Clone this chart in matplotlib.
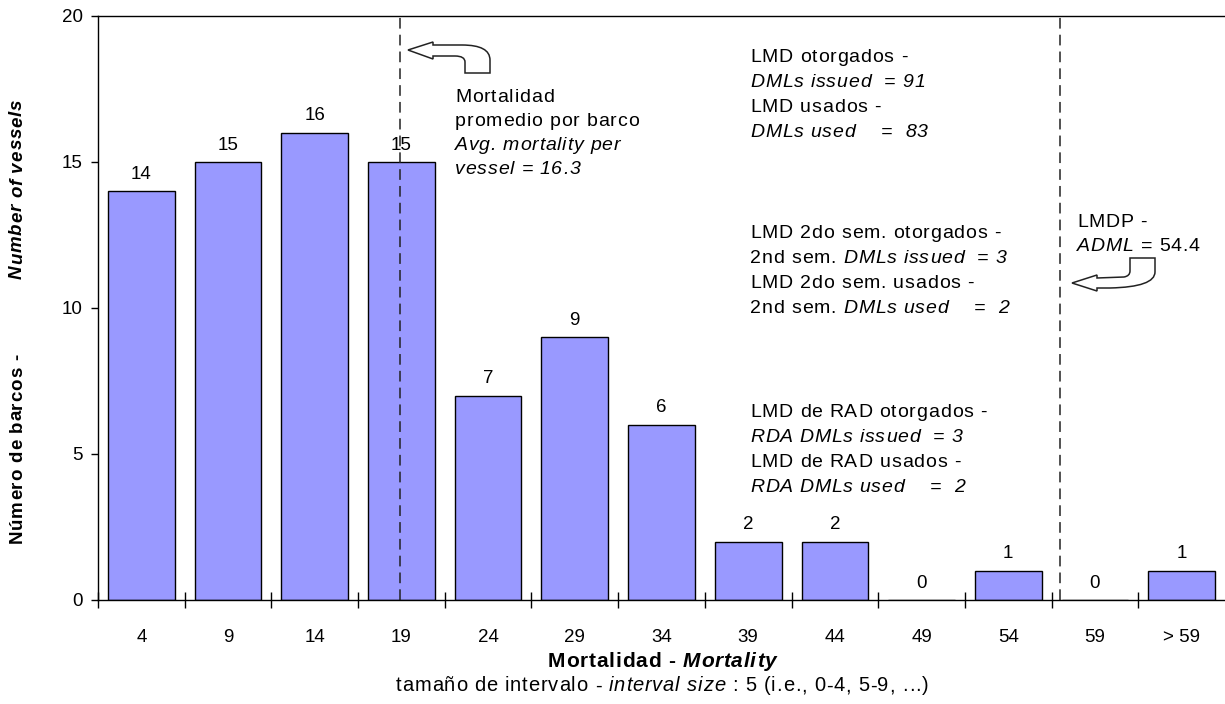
import matplotlib
matplotlib.use("Agg")
import matplotlib.pyplot as plt
from matplotlib.path import Path
from matplotlib.patches import PathPatch
from matplotlib.font_manager import FontProperties
import numpy as np

plt.rcParams['font.family'] = ['Liberation Sans', 'DejaVu Sans']

# data
categories = ['4', '9', '14', '19', '24', '29', '34', '39', '44', '49', '54', '59', '> 59']
counts = [14, 15, 16, 15, 7, 9, 6, 2, 2, 0, 1, 0, 1]
avg_mortality = 16.3
adml = 54.4
interval = 5

W, H = 1225, 704
FS = 13.5      # ticks and bar labels
TS = 14        # annotation text
TRACK = 0.8    # extra letter spacing (px) of the original renderer
fig = plt.figure(figsize=(W / 100, H / 100), dpi=100)
ax = fig.add_axes([98 / W, 1 - 600 / H, 1127 / W, 584 / H])

x = np.arange(len(categories))
bars = ax.bar(x, counts, width=0.77, color='#9999FF', edgecolor='black', linewidth=1.0)
for xi, c in zip(x, counts):
    ax.annotate(str(c), (xi, c), xytext=(0, 6), textcoords='offset points',
                ha='center', va='bottom', fontsize=FS)

ax.set_xlim(-0.5, len(categories) - 0.5)
ax.set_ylim(0, 20)
ax.set_yticks([0, 5, 10, 15, 20])
ax.tick_params(axis='y', labelsize=FS, direction='out', length=5, width=1, pad=6)
ax.set_xticks(x)
ax.set_xticklabels(categories, fontsize=FS)
ax.tick_params(axis='x', which='major', length=0, pad=21)
ax.set_xticks(np.arange(len(categories)) - 0.5, minor=True)
ax.tick_params(axis='x', which='minor', direction='inout', length=12, width=1)
ax.spines['right'].set_visible(False)
for s in ['left', 'bottom', 'top']:
    ax.spines[s].set_linewidth(1.0)


# category axis position of a mortality value (bars labelled by interval upper bound)
def cat_pos(v):
    return v / interval - 0.28


for v in [avg_mortality, adml]:
    ax.axvline(cat_pos(v), color='#222222', lw=1.1, ls=(0, (7, 4)))

renderer = fig.canvas.get_renderer()


def fx(px):
    return px / W


def fy(py):
    return 1 - py / H


def text_w(s, prop):
    w, _, _ = renderer.get_text_width_height_descent(s + '|', prop, ismath=False)
    w0, _, _ = renderer.get_text_width_height_descent('|', prop, ismath=False)
    return w - w0


def layout(pieces, size, track):
    # returns list of (char, prop, offset) and the total length
    out = []
    pos = 0.0
    for t, st, wt in pieces:
        prop = FontProperties(family=['Liberation Sans', 'DejaVu Sans'], size=size,
                              style=st, weight=wt)
        for k, ch in enumerate(t):
            off = text_w(t[:k], prop) + k * track
            out.append((ch, prop, pos + off))
        pos += text_w(t, prop) + len(t) * track
    return out, pos - track


def rich(px, py, pieces, ha='left', size=TS, track=TRACK):
    # py is the centre line of the text, pixels from the top
    chars, total = layout(pieces, size, track)
    x0 = px - total / 2 if ha == 'center' else px
    base = py + size * 0.37
    for ch, prop, off in chars:
        if ch != ' ':
            fig.text(fx(x0 + off), fy(base), ch, fontproperties=prop,
                     ha='left', va='baseline')


def rich_vertical(px, py_bottom, pieces, gap, size=TS, track=TRACK):
    pos = py_bottom
    for piece in pieces:
        chars, total = layout([piece], size, track)
        for ch, prop, off in chars:
            if ch != ' ':
                fig.text(fx(px + size * 0.37), fy(pos - off), ch, fontproperties=prop,
                         rotation=90, rotation_mode='anchor', ha='left', va='baseline')
        pos -= total + gap


N, I = 'normal', 'italic'

# average mortality note
rich(455, 97, [('Mortalidad', N, 'normal')])
rich(455, 121, [('promedio por barco', N, 'normal')])
rich(455, 145, [('Avg. mortality per', I, 'normal')])
rich(455, 169, [('vessel = %.1f' % avg_mortality, I, 'normal')])

# DML blocks
rich(750, 57, [('LMD otorgados -', N, 'normal')])
rich(750, 82, [('DMLs issued  = 91', I, 'normal')])
rich(750, 107, [('LMD usados -', N, 'normal')])
rich(750, 132, [('DMLs used    =  83', I, 'normal')])

rich(750, 233, [('LMD 2do sem. otorgados -', N, 'normal')])
rich(750, 258, [('2nd sem. ', N, 'normal'), ('DMLs issued  = 3', I, 'normal')])
rich(750, 283, [('LMD 2do sem. usados -', N, 'normal')])
rich(750, 308, [('2nd sem. ', N, 'normal'), ('DMLs used    =  2', I, 'normal')])

rich(750, 412, [('LMD de RAD otorgados -', N, 'normal')])
rich(750, 437, [('RDA DMLs issued  = 3', I, 'normal')])
rich(750, 462, [('LMD de RAD usados -', N, 'normal')])
rich(750, 487, [('RDA DMLs used    =  2', I, 'normal')])

rich(1077, 222, [('LMDP -', N, 'normal')])
rich(1077, 246, [('ADML', I, 'normal'), (' = %.1f' % adml, N, 'normal')])

# axis titles
rich(662, 661, [('Mortalidad - ', N, 'bold'), ('Mortality', I, 'bold')], ha='center',
     size=15)
rich(662, 686, [('tamaño de intervalo - ', N, 'normal'), ('interval size', I, 'normal'),
                (' : 5 (i.e., 0-4, 5-9, ...)', N, 'normal')], ha='center', size=14.5)
rich_vertical(17, 543, [('Número de barcos -', N, 'bold'),
                        ('Number of vessels', I, 'bold')], gap=75, size=13.5)


# curved block arrows (callout shapes)
def shape(verts, codes):
    p = Path([(fx(a), fy(b)) for a, b in verts], codes)
    fig.add_artist(PathPatch(p, facecolor='white', edgecolor='#222222', lw=1.1,
                             transform=fig.transFigure))


M, L, C3, CL = Path.MOVETO, Path.LINETO, Path.CURVE3, Path.CLOSEPOLY
shape([(408, 50), (433, 42), (433, 45), (462, 45), (490, 45), (490, 60), (490, 73),
       (465, 73), (465, 62), (465, 56), (455, 56), (433, 56), (433, 59), (408, 50)],
      [M, L, L, L, C3, C3, L, L, L, C3, C3, L, L, CL])
shape([(1072, 283), (1097, 275), (1097, 278), (1124, 277), (1130, 276), (1130, 271),
       (1130, 258), (1155, 258), (1155, 272), (1155, 287), (1110, 288), (1097, 288),
       (1097, 291), (1072, 283)],
      [M, L, L, L, C3, C3, L, L, L, C3, C3, L, L, CL])

fig.savefig('out.png', dpi=100)
